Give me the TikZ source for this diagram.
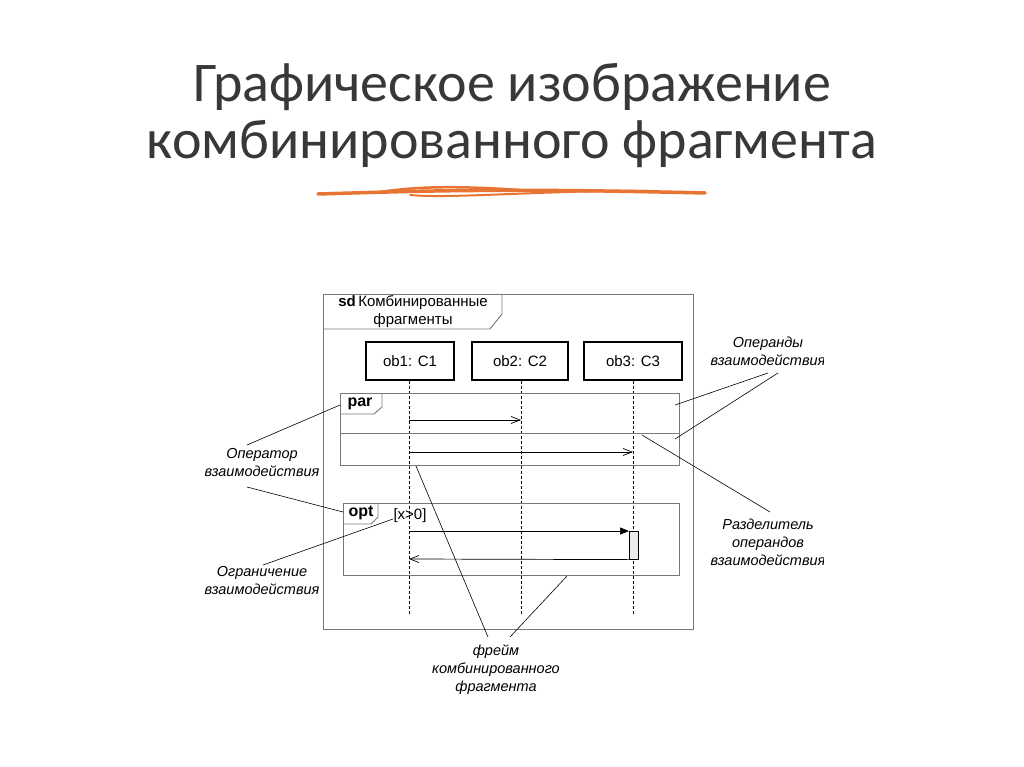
\documentclass[tikz,border=0pt]{standalone}
\usepackage{fontspec}
\setmainfont{Liberation Sans}
\newfontfamily\titlefont{Carlito}
\usetikzlibrary{arrows.meta}
\definecolor{fr}{RGB}{120,120,120}
\definecolor{org}{RGB}{232,116,52}
\begin{document}
\begin{tikzpicture}[x=1pt,y=-1pt,
  frm/.style={draw=fr,line width=0.9pt},
  lbox/.style={draw=black,line width=1.3pt,minimum width=#1,minimum height=38pt,font=\fontsize{15}{15}\selectfont},
  lbox/.default=88pt,
  life/.style={line width=0.6pt,dash pattern=on 3pt off 2pt},
  msg/.style={line width=0.7pt,-{Straight Barb[length=9pt,width=7pt]}},
  smsg/.style={line width=0.7pt,-{Triangle[length=9pt,width=7pt]}},
  ptr/.style={line width=0.6pt},
  lab/.style={font=\fontsize{14.5}{18}\selectfont\itshape,align=center},
  tab/.style={font=\fontsize{16}{16}\selectfont\bfseries}]
\useasboundingbox (0,0) rectangle (1024,767);
\fill[white] (0,0) rectangle (1024,767);
\node[font=\titlefont\fontsize{56}{57}\selectfont,align=center,color=black!78] (title) at (512,116) {Графическое изображение\\комбинированного фрагмента};
\draw[org,line width=3.5pt,line cap=round] (318,194) .. controls (420,191) and (500,188) .. (705,193);
\draw[org,line width=2.5pt,line cap=round] (380,192) .. controls (420,186) and (460,186) .. (520,190);
\draw[org,line width=2pt,line cap=round] (410,195) .. controls (450,199) and (550,190) .. (650,191);
% outer frame
\draw[frm] (323,294) rectangle (693,629);
\draw[frm] (323,329) -- (490,329) -- (502,314) -- (502,294);
\node[font=\fontsize{15}{18}\selectfont,align=center] (sd) at (413,312) {\textbf{sd}\,Комбинированные\\фрагменты};
% lifelines
\node[lbox=88pt] (o1) at (410,361) {ob1: C1};
\node[lbox=96pt] (o2) at (520,361) {ob2: C2};
\node[lbox=98pt] (o3) at (633,361) {ob3: C3};
\coordinate (e1) at (409,615); \coordinate (e2) at (521,615); \coordinate (e3) at (633,615);
\draw[life] (o1.south -| e1) -- (e1);
\draw[life] (o2.south -| e2) -- (e2);
\draw[life] (o3.south -| e3) -- (e3);
% par
\draw[frm] (340,393) rectangle (679,465);
\draw[frm] (340,433) -- (679,433);
\draw[frm] (340,414) -- (374,414) -- (382,407) -- (382,393);
\node[tab] (par) at (360,404) {par};
\coordinate (a1) at (409,420); \coordinate (b1) at (521,420);
\coordinate (a2) at (409,452); \coordinate (b2) at (633,452);
\draw[msg] (a1) -- (b1);
\draw[msg] (a2) -- (b2);
% opt
\draw[frm] (343,503) rectangle (679,575);
\draw[frm] (343,524) -- (371,524) -- (378,517) -- (378,503);
\node[tab] (opt) at (361,513) {opt};
\node[font=\fontsize{15}{15}\selectfont] (guard) at (410,516) {[x>0]};
\node[draw=black,line width=0.6pt,fill=black!8,minimum width=9pt,minimum height=28pt,inner sep=0pt,anchor=north west] (act) at (629,531) {};
\coordinate (a3) at (409,531); \coordinate (a4) at (409,559);
\draw[smsg] (a3) -- (act.north west);
\draw[msg] (act.south west) -- (a4);
% labels
\begin{scope}
\clip (600,320) rectangle (823,600);
\node[lab] (operands) at (768,351) {Операнды\\взаимодействия};
\node[lab] (divider) at (768,542) {Разделитель\\операндов\\взаимодействия};
\end{scope}
\draw[ptr] (768,373) -- (675,405);
\draw[ptr] (778,373) -- (675,439);
\draw[ptr] (770,512) -- (642,435);
\node[lab] (operator) at (262,463) {Оператор\\взаимодействия};
\draw[ptr] (247,445) -- (340,405);
\draw[ptr] (247,487) -- (343,512);
\node[lab] (constraint) at (262,581) {Ограничение\\взаимодействия};
\draw[ptr] (263,565) -- (393,519);
\node[lab] (frame) at (496,670) {фрейм\\комбинированного\\фрагмента};
\draw[ptr] (488,637) -- (416,466);
\draw[ptr] (510,637) -- (567,576);
\end{tikzpicture}
\end{document}
